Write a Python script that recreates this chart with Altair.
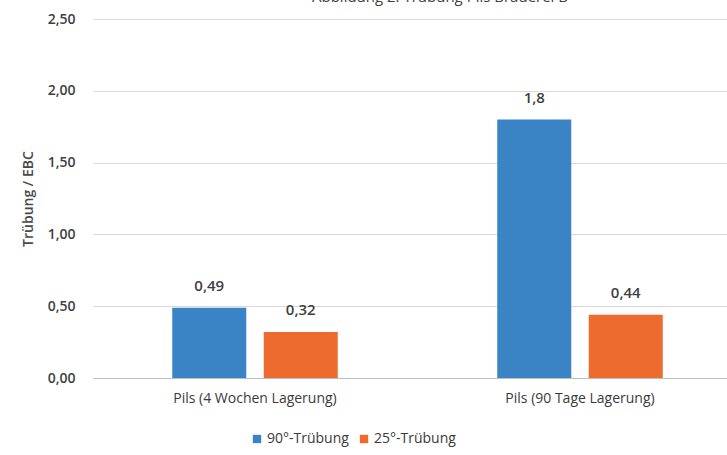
import altair as alt
import pandas as pd

categories = ["Pils (4 Wochen Lagerung)", "Pils (90 Tage Lagerung)"]
series = ["90°-Trübung", "25°-Trübung"]
values_90 = [0.49, 1.8]
values_25 = [0.32, 0.44]
colors = ["#3a84c6", "#ee6b2f"]
title_text = "Abbildung 2: Trübung Pils Brauerei B"
y_ticks = [0, 0.5, 1.0, 1.5, 2.0, 2.5]

rows = []
for i, c in enumerate(categories):
    rows.append({"cat": c, "ser": series[0], "val": values_90[i]})
    rows.append({"cat": c, "ser": series[1], "val": values_25[i]})
df = pd.DataFrame(rows)

FONT = "Open Sans"

x_enc = alt.X("cat:N", sort=categories, title=None,
              scale=alt.Scale(paddingInner=0.0954, paddingOuter=0.0231, align=1),
              axis=alt.Axis(labelAngle=0, ticks=False, domain=True, domainColor="#bfbfbf",
                            labelPadding=13, labelFontSize=14, labelColor="#3a3a3a",
                            labelFont=FONT, grid=False))
xoff_enc = alt.XOffset("ser:N", sort=series,
                       scale=alt.Scale(paddingInner=0.191, paddingOuter=0.702))
y_enc = alt.Y("val:Q", title="Trübung / EBC",
              scale=alt.Scale(domain=[0, 2.5], nice=False),
              axis=alt.Axis(values=y_ticks, grid=True, gridColor="#d9d9d9", domain=False,
                            ticks=False, labelPadding=18, labelFontSize=14,
                            labelColor="#3f3f3f", labelFont=FONT, labelFontWeight=600,
                            labelExpr="replace(format(datum.value, '.2f'), '.', ',')",
                            titleFont=FONT, titleFontSize=14, titleFontWeight=600,
                            titleColor="#4a4a4a", titlePadding=12))

bars = alt.Chart(df).mark_bar().encode(
    x=x_enc, xOffset=xoff_enc, y=y_enc,
    color=alt.Color("ser:N", sort=series,
                    scale=alt.Scale(domain=series, range=colors),
                    legend=alt.Legend(title=None, orient="none", legendX=157, legendY=413,
                                      direction="horizontal", symbolType="square",
                                      symbolSize=70, labelFontSize=14, labelFont=FONT,
                                      labelColor="#3a3a3a", columnPadding=8,
                                      labelOffset=3, symbolStrokeWidth=0)),
)

labels = alt.Chart(df).transform_calculate(
    lab="replace(toString(datum.val), '.', ',')"
).mark_text(dy=-17, baseline="alphabetic", fontSize=15, font=FONT, fontWeight=600,
            color="#3f3f3f").encode(
    x=alt.X("cat:N", sort=categories), xOffset=alt.XOffset("ser:N", sort=series),
    y="val:Q", text="lab:N",
)

title = alt.Chart(pd.DataFrame({"t": [title_text]})).mark_text(
    fontSize=15, font=FONT, color="#404040", baseline="alphabetic", align="center"
).encode(text="t:N", x=alt.value(347), y=alt.value(-17))

chart = alt.layer(bars, labels, title).properties(
    width=634, height=359,
    autosize=alt.AutoSizeParams(type="none"),
    padding={"left": 93, "top": 19, "right": 0, "bottom": 77},
).configure_view(stroke=None)

chart.save("out.html", embed_options={"renderer": "svg", "actions": False})
